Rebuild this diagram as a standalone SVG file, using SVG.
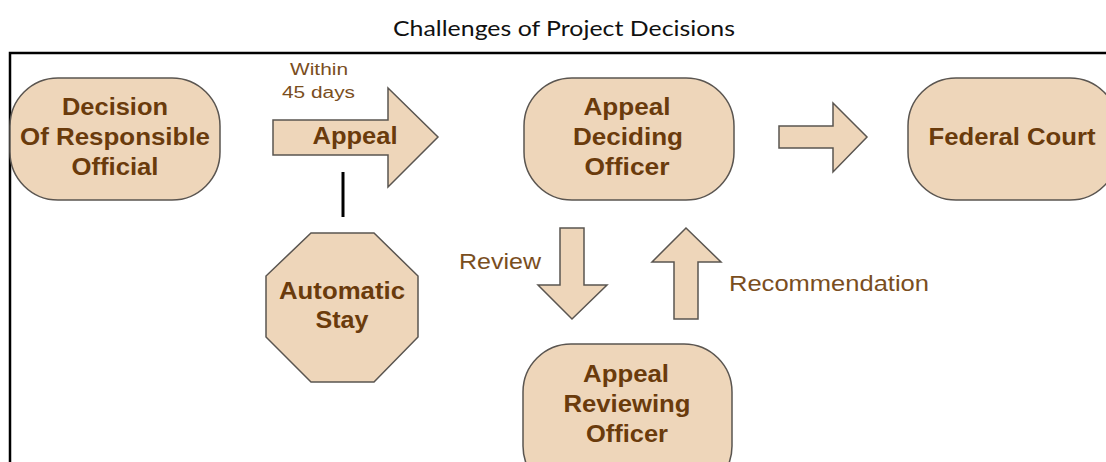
<svg xmlns="http://www.w3.org/2000/svg" width="1106" height="462" viewBox="0 0 1106 462">
<style>
.node{fill:#EED6BA;stroke:#5a5550;stroke-width:1.5}
.arrow{fill:#EED6BA;stroke:#5a5550;stroke-width:1.5;stroke-linejoin:miter}
.nt{font-family:"Liberation Sans",Arial,sans-serif;font-weight:bold;font-size:23px;fill:#6A3B0C;text-anchor:middle}
.lbl{font-family:"Liberation Sans",Arial,sans-serif;font-size:22px;fill:#7A4E1E}
.sm{font-size:16px}
.title{font-family:Lato,"Open Sans",sans-serif;font-size:22px;fill:#111;text-anchor:middle}
</style>
<rect width="1106" height="462" fill="#ffffff"/>
<text class="title" x="564" y="36" textLength="342" lengthAdjust="spacingAndGlyphs">Challenges of Project Decisions</text>
<path d="M10 462 V53 H1106" fill="none" stroke="#000" stroke-width="2.5"/>
<g id="connectors">
  <polygon class="arrow" points="273,120 388,120 388,88 438,137 388,187 388,155 273,155"/>
  <text class="nt" x="355" y="144" textLength="85" lengthAdjust="spacingAndGlyphs">Appeal</text>
  <text class="lbl sm" x="290" y="75" textLength="58" lengthAdjust="spacingAndGlyphs">Within</text>
  <text class="lbl sm" x="282" y="98" textLength="73" lengthAdjust="spacingAndGlyphs">45 days</text>
  <line x1="343" y1="172" x2="343" y2="217" stroke="#000" stroke-width="3"/>
  <polygon class="arrow" points="779,126 833,126 833,103 867,137 833,172 833,148 779,148"/>
  <polygon class="arrow" points="560,228 584,228 584,285 607,285 572,319 538,285 560,285"/>
  <text class="lbl" x="459" y="269" textLength="82" lengthAdjust="spacingAndGlyphs">Review</text>
  <polygon class="arrow" points="674,319 698,319 698,262 721,262 686,228 652,262 674,262"/>
  <text class="lbl" x="729" y="291" textLength="200" lengthAdjust="spacingAndGlyphs">Recommendation</text>
</g>
<g id="node-decision">
  <rect class="node" x="10" y="78" width="210" height="122" rx="48" ry="48"/>
  <text class="nt" x="115" y="115" textLength="106" lengthAdjust="spacingAndGlyphs">Decision</text>
  <text class="nt" x="115" y="145" textLength="190" lengthAdjust="spacingAndGlyphs">Of Responsible</text>
  <text class="nt" x="115" y="175" textLength="87" lengthAdjust="spacingAndGlyphs">Official</text>
</g>
<g id="node-stay">
  <polygon class="node" points="311,233 374,233 418,276 418,337 374,382 311,382 266,337 266,276"/>
  <text class="nt" x="342" y="299" textLength="126" lengthAdjust="spacingAndGlyphs">Automatic</text>
  <text class="nt" x="342" y="328" textLength="53" lengthAdjust="spacingAndGlyphs">Stay</text>
</g>
<g id="node-deciding">
  <rect class="node" x="524" y="78" width="210" height="122" rx="48" ry="48"/>
  <text class="nt" x="627" y="115" textLength="87" lengthAdjust="spacingAndGlyphs">Appeal</text>
  <text class="nt" x="628" y="145" textLength="110" lengthAdjust="spacingAndGlyphs">Deciding</text>
  <text class="nt" x="627" y="175" textLength="85" lengthAdjust="spacingAndGlyphs">Officer</text>
</g>
<g id="node-court">
  <rect class="node" x="908" y="78" width="210" height="122" rx="48" ry="48"/>
  <text class="nt" x="1012" y="145" textLength="167" lengthAdjust="spacingAndGlyphs">Federal Court</text>
</g>
<g id="node-reviewing">
  <rect class="node" x="523" y="344" width="209" height="150" rx="48" ry="48"/>
  <text class="nt" x="626" y="382" textLength="86" lengthAdjust="spacingAndGlyphs">Appeal</text>
  <text class="nt" x="627" y="412" textLength="127" lengthAdjust="spacingAndGlyphs">Reviewing</text>
  <text class="nt" x="627" y="442" textLength="82" lengthAdjust="spacingAndGlyphs">Officer</text>
</g>
</svg>
